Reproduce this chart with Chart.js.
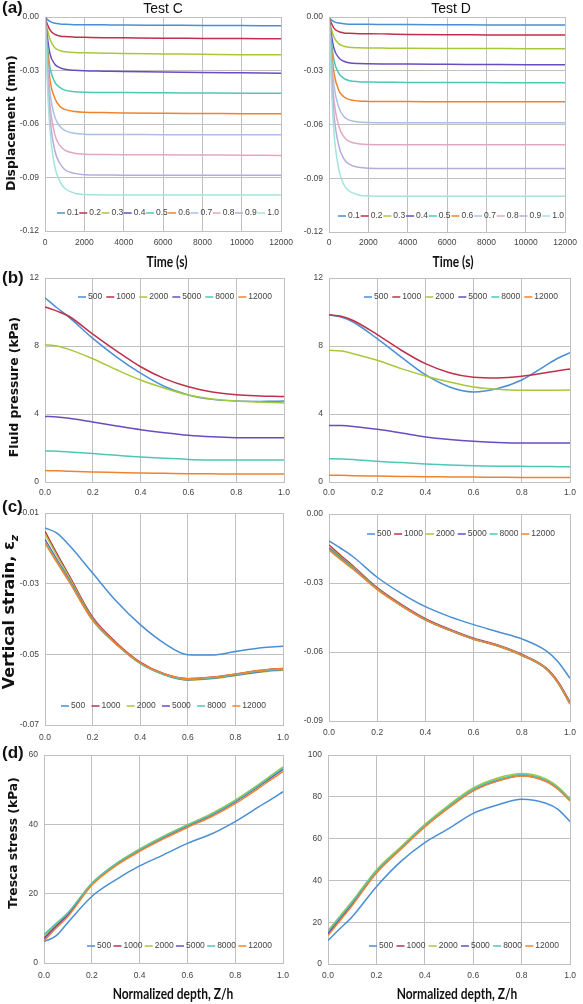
<!DOCTYPE html>
<html>
<head>
<meta charset="utf-8">
<script src="https://cdn.jsdelivr.net/npm/chart.js@4.4.1/dist/chart.umd.min.js"></script>
<style>
  body { margin: 0; background: #fff; }
  #page { position: relative; width: 583px; height: 1004px; overflow: hidden; background: #fff; }
  #page canvas { position: absolute; }
  .lbl { position: absolute; white-space: nowrap; transform: translate(-50%, -50%); color: #111; z-index: 5; }
  .panel { font: bold 17px 'Liberation Sans', Arial, sans-serif; transform: translate(0, -50%); }
  .test { font: 14px 'Liberation Sans', Arial, sans-serif; }
  .xt { font: bold 15px Lato, 'Liberation Sans', sans-serif; transform: translate(-50%, -50%) scaleX(0.8); }
  .yt { font: bold 12.3px 'DejaVu Sans', Verdana, sans-serif; transform: translate(-50%, -50%) rotate(-90deg); }
  .yt.big { font-size: 16px; }
  .yt sub { font-size: 11px; font-style: italic; }
</style>
</head>
<body>
<div id="page">
  <div class="lbl panel" style="left:2px;top:8px">(a)</div>
  <div class="lbl panel" style="left:2px;top:278px">(b)</div>
  <div class="lbl panel" style="left:2px;top:507px">(c)</div>
  <div class="lbl panel" style="left:2px;top:753px">(d)</div>
  <div class="lbl test" style="left:163px;top:8px">Test C</div>
  <div class="lbl test" style="left:451px;top:8px">Test D</div>
  <div class="lbl xt" style="left:167px;top:261px">Time (s)</div>
  <div class="lbl xt" style="left:453px;top:261px">Time (s)</div>
  <div class="lbl xt" style="left:173px;top:993px">Normalized depth, Z/h</div>
  <div class="lbl xt" style="left:457px;top:993px">Normalized depth, Z/h</div>
  <div class="lbl yt" style="left:11px;top:123px">Displacement (mm)</div>
  <div class="lbl yt" style="left:14px;top:387px">Fluid pressure (kPa)</div>
  <div class="lbl yt big" style="left:10px;top:612px">Vertical strain, ε<sub>z</sub></div>
  <div class="lbl yt" style="left:13px;top:843px">Tresca stress (kPa)</div>
</div>
<script>
// ---- data ----
const timeS = [0, 100, 250, 500, 750, 1000, 1500, 2000, 3000, 4000, 6000, 8000, 10000, 12000];
const depthLabels = ['0.1', '0.2', '0.3', '0.4', '0.5', '0.6', '0.7', '0.8', '0.9', '1.0'];

// Test C displacement (mm), one array per normalized depth
const dispC01 = [0, -0.0012, -0.0025, -0.0035, -0.0039, -0.0041, -0.0043, -0.0043, -0.0044, -0.0045, -0.0046, -0.0047, -0.0048, -0.0049];
const dispC02 = [0, -0.0035, -0.0072, -0.0098, -0.0106, -0.011, -0.0113, -0.0114, -0.0116, -0.0117, -0.0119, -0.012, -0.0121, -0.0122];
const dispC03 = [0, -0.006, -0.0125, -0.0172, -0.0188, -0.0195, -0.0199, -0.0201, -0.0203, -0.0205, -0.0207, -0.0209, -0.0211, -0.0212];
const dispC04 = [0, -0.0095, -0.0205, -0.0265, -0.0284, -0.0293, -0.0299, -0.0302, -0.0304, -0.0306, -0.0308, -0.0311, -0.0313, -0.0315];
const dispC05 = [0, -0.013, -0.028, -0.0365, -0.0395, -0.041, -0.0419, -0.0422, -0.0423, -0.0424, -0.0425, -0.0426, -0.0427, -0.0427];
const dispC06 = [0, -0.016, -0.035, -0.0455, -0.05, -0.0518, -0.053, -0.0534, -0.0536, -0.0538, -0.054, -0.0541, -0.0542, -0.0543];
const dispC07 = [0, -0.02, -0.042, -0.056, -0.0612, -0.0636, -0.0652, -0.0657, -0.0659, -0.0659, -0.066, -0.066, -0.066, -0.066];
const dispC08 = [0, -0.024, -0.049, -0.066, -0.072, -0.0746, -0.0764, -0.0769, -0.0771, -0.0772, -0.0773, -0.0774, -0.0775, -0.0776];
const dispC09 = [0, -0.028, -0.056, -0.075, -0.082, -0.0855, -0.0877, -0.0884, -0.0886, -0.0887, -0.0887, -0.0887, -0.0887, -0.0887];
const dispC10 = [0, -0.032, -0.063, -0.084, -0.092, -0.096, -0.0988, -0.0996, -0.0998, -0.0998, -0.0998, -0.0998, -0.0998, -0.0998];

// Test D displacement (mm)
const dispD01 = [0, -0.0014, -0.0026, -0.0034, -0.0038, -0.004, -0.0041, -0.0041, -0.0042, -0.0042, -0.0043, -0.0044, -0.0045, -0.0045];
const dispD02 = [0, -0.003, -0.0062, -0.0082, -0.0089, -0.0091, -0.0093, -0.0093, -0.0095, -0.0097, -0.0099, -0.01, -0.0101, -0.0101];
const dispD03 = [0, -0.0055, -0.0112, -0.015, -0.0163, -0.0169, -0.0172, -0.0173, -0.0174, -0.0175, -0.0176, -0.0176, -0.0177, -0.0177];
const dispD04 = [0, -0.0085, -0.0175, -0.0228, -0.0247, -0.0255, -0.026, -0.0261, -0.0262, -0.0263, -0.0264, -0.0265, -0.0266, -0.0266];
const dispD05 = [0, -0.0115, -0.024, -0.0315, -0.0342, -0.0354, -0.0361, -0.0363, -0.0364, -0.0365, -0.0366, -0.0366, -0.0367, -0.0367];
const dispD06 = [0, -0.015, -0.031, -0.041, -0.0445, -0.046, -0.0469, -0.0471, -0.0472, -0.0472, -0.0473, -0.0473, -0.0473, -0.0473];
const dispD07 = [0, -0.019, -0.038, -0.0505, -0.0555, -0.0574, -0.0586, -0.0589, -0.059, -0.059, -0.059, -0.059, -0.059, -0.059];
const dispD08 = [0, -0.023, -0.046, -0.061, -0.0668, -0.0693, -0.0708, -0.0712, -0.0713, -0.0713, -0.0713, -0.0713, -0.0713, -0.0713];
const dispD09 = [0, -0.027, -0.054, -0.072, -0.079, -0.082, -0.0839, -0.0844, -0.0845, -0.0845, -0.0845, -0.0845, -0.0845, -0.0845];
const dispD10 = [0, -0.032, -0.064, -0.085, -0.0935, -0.097, -0.0993, -0.0999, -0.1, -0.1, -0.1, -0.1, -0.1, -0.1];

// profiles against normalized depth Z/h, one array per time (s)
const zh = [0, 0.05, 0.1, 0.2, 0.3, 0.4, 0.5, 0.6, 0.7, 0.8, 0.9, 0.95, 1.0];
const timeLabels = ['500', '1000', '2000', '5000', '8000', '12000'];

// fluid pressure (kPa)
const pC500 = [10.84, 10.25, 9.7, 8.45, 7.35, 6.4, 5.62, 5.12, 4.86, 4.76, 4.74, 4.75, 4.76];
const pC1000 = [10.3, 10.05, 9.75, 8.7, 7.7, 6.78, 6.08, 5.6, 5.3, 5.13, 5.06, 5.04, 5.03];
const pC2000 = [8.08, 8.0, 7.8, 7.25, 6.6, 6.0, 5.52, 5.12, 4.88, 4.76, 4.7, 4.67, 4.65];
const pC5000 = [3.86, 3.83, 3.75, 3.53, 3.3, 3.08, 2.9, 2.75, 2.66, 2.61, 2.6, 2.6, 2.6];
const pC8000 = [1.82, 1.81, 1.77, 1.67, 1.57, 1.47, 1.39, 1.33, 1.3, 1.29, 1.29, 1.29, 1.29];
const pC12000 = [0.67, 0.66, 0.63, 0.59, 0.56, 0.53, 0.51, 0.49, 0.48, 0.47, 0.47, 0.47, 0.47];

const pD500 = [9.84, 9.7, 9.41, 8.43, 7.35, 6.31, 5.59, 5.3, 5.5, 6.0, 6.86, 7.28, 7.6];
const pD1000 = [9.84, 9.75, 9.5, 8.67, 7.75, 6.96, 6.43, 6.16, 6.12, 6.22, 6.43, 6.55, 6.65];
const pD2000 = [7.75, 7.7, 7.55, 7.16, 6.67, 6.24, 5.88, 5.59, 5.45, 5.39, 5.39, 5.4, 5.41];
const pD5000 = [3.33, 3.32, 3.27, 3.1, 2.88, 2.65, 2.5, 2.39, 2.32, 2.29, 2.29, 2.29, 2.29];
const pD8000 = [1.37, 1.36, 1.33, 1.22, 1.14, 1.06, 1.0, 0.96, 0.93, 0.92, 0.91, 0.9, 0.9];
const pD12000 = [0.39, 0.39, 0.37, 0.35, 0.33, 0.31, 0.3, 0.29, 0.28, 0.27, 0.27, 0.27, 0.27];

// vertical strain
const sC500 = [-0.0142, -0.0157, -0.019, -0.027, -0.035, -0.0416, -0.0468, -0.0501, -0.0502, -0.0492, -0.0482, -0.0479, -0.0477];
const sC1000 = [-0.0152, -0.0215, -0.0275, -0.0395, -0.0467, -0.0522, -0.0555, -0.0569, -0.0565, -0.0556, -0.0546, -0.0542, -0.054];
const sC2000 = [-0.0159, -0.0221, -0.028, -0.0399, -0.047, -0.0525, -0.0558, -0.0573, -0.0569, -0.056, -0.0551, -0.0547, -0.0545];
const sC5000 = [-0.0175, -0.0232, -0.0287, -0.0402, -0.0471, -0.0525, -0.0557, -0.0572, -0.0568, -0.0559, -0.0549, -0.0545, -0.0543];
const sC8000 = [-0.018, -0.0236, -0.029, -0.0403, -0.0472, -0.0526, -0.0557, -0.0571, -0.0567, -0.0558, -0.0548, -0.0544, -0.0542];
const sC12000 = [-0.0185, -0.024, -0.0293, -0.0404, -0.0471, -0.0524, -0.0555, -0.0569, -0.0565, -0.0556, -0.0546, -0.0542, -0.054];

const sD500 = [-0.0117, -0.015, -0.0186, -0.0275, -0.0345, -0.0403, -0.0446, -0.0481, -0.0512, -0.0543, -0.0594, -0.0642, -0.0714];
const sD1000 = [-0.0135, -0.0182, -0.0226, -0.032, -0.0393, -0.0455, -0.0501, -0.054, -0.0569, -0.061, -0.0668, -0.0728, -0.0818];
const sD2000 = [-0.0142, -0.0188, -0.0231, -0.0324, -0.0397, -0.0459, -0.0506, -0.0545, -0.0574, -0.0615, -0.0673, -0.0735, -0.0826];
const sD5000 = [-0.0148, -0.0193, -0.0235, -0.0326, -0.0398, -0.046, -0.0505, -0.0544, -0.0573, -0.0614, -0.0672, -0.0733, -0.0824];
const sD8000 = [-0.0152, -0.0196, -0.0237, -0.0327, -0.0398, -0.0459, -0.0504, -0.0543, -0.0572, -0.0613, -0.0671, -0.0732, -0.0823];
const sD12000 = [-0.0157, -0.02, -0.024, -0.0329, -0.0399, -0.046, -0.0505, -0.0544, -0.0573, -0.0614, -0.0671, -0.0733, -0.0827];

// Tresca stress (kPa)
const tC500 = [6.2, 7.8, 11.7, 19.2, 24.0, 28.0, 31.2, 34.5, 37.2, 40.8, 45.1, 47.2, 49.4];
const tC1000 = [7.2, 10.7, 14.0, 22.8, 28.4, 32.6, 36.3, 39.6, 42.7, 46.6, 51.1, 53.6, 56.0];
const tC2000 = [7.8, 11.2, 14.4, 23.0, 28.6, 32.9, 36.6, 39.9, 43.1, 47.0, 51.6, 54.1, 56.6];
const tC5000 = [7.0, 10.5, 13.8, 22.7, 28.3, 32.5, 36.2, 39.5, 42.6, 46.5, 51.1, 53.5, 55.9];
const tC8000 = [8.2, 11.4, 14.5, 22.9, 28.5, 32.7, 36.4, 39.7, 42.8, 46.7, 51.3, 53.8, 56.2];
const tC12000 = [6.4, 10.0, 13.4, 22.4, 28.0, 32.2, 35.8, 39.1, 42.2, 46.0, 50.5, 52.9, 55.2];

const tD500 = [11.2, 17.0, 22.6, 37.0, 49.0, 58.1, 64.9, 72.1, 76.1, 78.8, 76.9, 74.0, 68.1];
const tD1000 = [15.0, 22.0, 29.0, 44.2, 55.3, 66.0, 75.3, 83.3, 88.0, 90.3, 87.7, 84.0, 78.5];
const tD2000 = [16.0, 23.0, 30.0, 45.0, 56.0, 66.8, 76.2, 84.2, 89.0, 91.2, 88.6, 84.8, 79.0];
const tD5000 = [14.5, 21.5, 28.6, 43.8, 55.0, 65.8, 75.0, 83.0, 87.7, 90.1, 87.5, 83.8, 78.3];
const tD8000 = [15.5, 22.5, 29.5, 44.5, 55.5, 66.3, 75.6, 83.6, 88.3, 90.6, 88.0, 84.3, 78.7];
const tD12000 = [13.6, 20.8, 28.0, 43.5, 54.8, 65.6, 74.8, 82.8, 87.5, 89.9, 87.3, 83.6, 78.0];

// ---- styling ----
const lineColors = ['#4a8fd4', '#c0304a', '#a8c83c', '#6a4cc0', '#4cc8b8', '#f0842c',
                    '#a8c0e4', '#e0a8c4', '#b4acdc', '#a4e4dc'];
const tickFont = { family: "'Liberation Sans', Arial, sans-serif", size: 8.5 };
const tickColor = '#444';
const gridColor = '#c0c0c0';

// legend drawn inside the plot area, in one row
const inlineLegend = {
  id: 'inlineLegend',
  afterDraw(chart, args, opts) {
    const ctx = chart.ctx;
    const area = chart.chartArea;
    const sets = chart.data.datasets;
    ctx.save();
    ctx.font = tickFont.size + 'px ' + tickFont.family;
    const widths = sets.map(d => 10 + ctx.measureText(d.label).width);
    const total = widths.reduce((s, w) => s + w, 0);
    const gap = (opts.x1 - opts.x0 - total) / (sets.length - 1);
    let x = area.left + opts.x0;
    const y = area.top + opts.y;
    sets.forEach((d, i) => {
      ctx.strokeStyle = d.borderColor;
      ctx.lineWidth = 1.5;
      ctx.beginPath();
      ctx.moveTo(x, y);
      ctx.lineTo(x + 8, y);
      ctx.stroke();
      ctx.fillStyle = tickColor;
      ctx.textBaseline = 'middle';
      ctx.textAlign = 'left';
      ctx.fillText(d.label, x + 10, y);
      x += widths[i] + gap;
    });
    ctx.restore();
  }
};

function makeChart(p) {
  const page = document.getElementById('page');
  const left = p.col === 0 ? 0 : 290;
  const width = p.col === 0 ? 300 : 293;
  const top = p.area.top - 12;
  const height = p.area.bottom + 26 - top;
  const cv = document.createElement('canvas');
  cv.width = width;
  cv.height = height;
  cv.style.left = left + 'px';
  cv.style.top = top + 'px';
  page.appendChild(cv);

  const datasets = p.series.map((vals, i) => ({
    label: p.names[i],
    data: vals.map((v, j) => ({ x: p.x[j], y: v })),
    borderColor: lineColors[i],
    borderWidth: 1.5,
    pointRadius: 0,
    fill: false,
    cubicInterpolationMode: 'monotone',
    order: p.series.length - i
  }));

  new Chart(cv, {
    type: 'line',
    data: { datasets: datasets },
    options: {
      responsive: false,
      animation: false,
      layout: { padding: { top: 12, right: left + width - p.area.right, bottom: 0, left: 0 } },
      plugins: {
        legend: { display: false },
        tooltip: { enabled: false },
        inlineLegend: p.legend
      },
      scales: {
        x: {
          type: 'linear',
          min: p.xr[0], max: p.xr[1],
          ticks: {
            stepSize: p.xr[2], autoSkip: false, maxRotation: 0,
            font: tickFont, color: tickColor, padding: p.xpad,
            callback: v => p.xr[2] >= 1 ? String(v) : v.toFixed(1)
          },
          grid: { color: gridColor, drawTicks: false },
          border: { color: gridColor },
          afterFit: s => { s.height = 26; }
        },
        y: {
          min: p.yr[0], max: p.yr[1],
          ticks: {
            stepSize: p.yr[2], font: tickFont, color: tickColor, padding: 6,
            callback: v => p.yr[2] >= 1 ? String(v) : (Math.abs(v) < 1e-9 ? '0.00' : v.toFixed(2))
          },
          grid: { color: gridColor, drawTicks: false },
          border: { color: gridColor },
          afterFit: s => { s.width = p.area.left - left; }
        }
      }
    },
    plugins: [inlineLegend]
  });
}

makeChart({ col: 0, area: { left: 45, right: 285, top: 17, bottom: 231 }, x: timeS, names: depthLabels,
  series: [dispC01, dispC02, dispC03, dispC04, dispC05, dispC06, dispC07, dispC08, dispC09, dispC10],
  xr: [0, 12000, 2000], yr: [-0.12, 0, 0.03], xpad: 7, legend: { x0: 12, x1: 234, y: 196 } });
makeChart({ col: 1, area: { left: 329, right: 570, top: 17, bottom: 232 }, x: timeS, names: depthLabels,
  series: [dispD01, dispD02, dispD03, dispD04, dispD05, dispD06, dispD07, dispD08, dispD09, dispD10],
  xr: [0, 12000, 2000], yr: [-0.12, 0, 0.03], xpad: 6, legend: { x0: 9, x1: 235, y: 199 } });

makeChart({ col: 0, area: { left: 45, right: 284, top: 278, bottom: 482 }, x: zh, names: timeLabels,
  series: [pC500, pC1000, pC2000, pC5000, pC8000, pC12000],
  xr: [0, 1, 0.2], yr: [0, 12, 4], xpad: 6, legend: { x0: 33, x1: 227, y: 19 } });
makeChart({ col: 1, area: { left: 329, right: 570, top: 278, bottom: 482 }, x: zh, names: timeLabels,
  series: [pD500, pD1000, pD2000, pD5000, pD8000, pD12000],
  xr: [0, 1, 0.2], yr: [0, 12, 4], xpad: 6, legend: { x0: 35, x1: 229, y: 19 } });

makeChart({ col: 0, area: { left: 45, right: 283, top: 513, bottom: 725 }, x: zh, names: timeLabels,
  series: [sC500, sC1000, sC2000, sC5000, sC8000, sC12000],
  xr: [0, 1, 0.2], yr: [-0.07, -0.01, 0.02], xpad: 8, legend: { x0: 16, x1: 221, y: 193 } });
makeChart({ col: 1, area: { left: 329, right: 570, top: 514, bottom: 721 }, x: zh, names: timeLabels,
  series: [sD500, sD1000, sD2000, sD5000, sD8000, sD12000],
  xr: [0, 1, 0.2], yr: [-0.09, 0, 0.03], xpad: 7, legend: { x0: 38, x1: 226, y: 20 } });

makeChart({ col: 0, area: { left: 44, right: 283, top: 755, bottom: 963 }, x: zh, names: timeLabels,
  series: [tC500, tC1000, tC2000, tC5000, tC8000, tC12000],
  xr: [0, 1, 0.2], yr: [0, 60, 20], xpad: 8, legend: { x0: 43, x1: 228, y: 191 } });
makeChart({ col: 1, area: { left: 328, right: 571, top: 755, bottom: 964 }, x: zh, names: timeLabels,
  series: [tD500, tD1000, tD2000, tD5000, tD8000, tD12000],
  xr: [0, 1, 0.2], yr: [0, 100, 20], xpad: 7, legend: { x0: 41, x1: 231, y: 191 } });
</script>
</body>
</html>
